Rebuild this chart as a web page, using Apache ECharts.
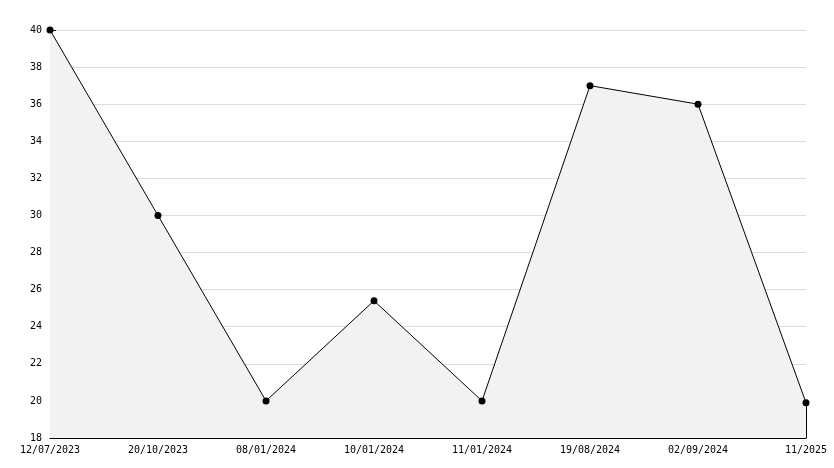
<!DOCTYPE html>
<html><head><meta charset="utf-8">
<script src="https://cdn.jsdelivr.net/npm/echarts@6/dist/echarts.min.js"></script>
<style>html,body{margin:0;padding:0;background:#fff}#c{width:834px;height:468px}</style>
</head><body><div id="c"></div>
<script>
const categories = ["12/07/2023","20/10/2023","08/01/2024","10/01/2024","11/01/2024","19/08/2024","02/09/2024","11/2025"];
const values = [40, 30, 20, 25.4, 20, 37, 36, 19.9];
const yMin = 18, yMax = 40, yStep = 2;
const font = "DejaVu Sans Mono";
const last = categories.length - 1;
const chart = echarts.init(document.getElementById('c'), null, {renderer:'canvas'});
chart.setOption({
  animation:false,
  backgroundColor:'#fff',
  grid:{left:50,right:28,top:30,bottom:30,containLabel:false},
  xAxis:{type:'category',data:categories,boundaryGap:false,
    axisLine:{lineStyle:{color:'#000',width:1}},
    axisTick:{inside:true,length:5,lineStyle:{color:'#000'},alignWithLabel:true},
    axisLabel:{color:'#000',fontFamily:font,fontSize:10,margin:7,interval:0},
    splitLine:{show:false}},
  yAxis:{type:'value',min:yMin,max:yMax,interval:yStep,
    axisLine:{show:true,lineStyle:{color:'#000',width:1}},
    axisTick:{show:true,inside:true,length:6,lineStyle:{color:'#000'}},
    minorTick:{show:true,splitNumber:2,length:4,lineStyle:{color:'#000'}},
    axisLabel:{color:'#000',fontFamily:font,fontSize:10,margin:8},
    splitLine:{show:true,lineStyle:{color:'#dddddd',width:1}}},
  series:[{type:'line',data:values,symbol:'circle',symbolSize:7,
    itemStyle:{color:'#000'},lineStyle:{color:'#000',width:1},
    areaStyle:{color:'#f2f2f2',opacity:1,origin:'start'},
    markLine:{silent:true,symbol:['none','none'],label:{show:false},
      lineStyle:{color:'#000',width:1,type:'solid'},
      data:[[{coord:[last, values[last]]},{coord:[last, yMin]}]]}}]
});
</script></body></html>
